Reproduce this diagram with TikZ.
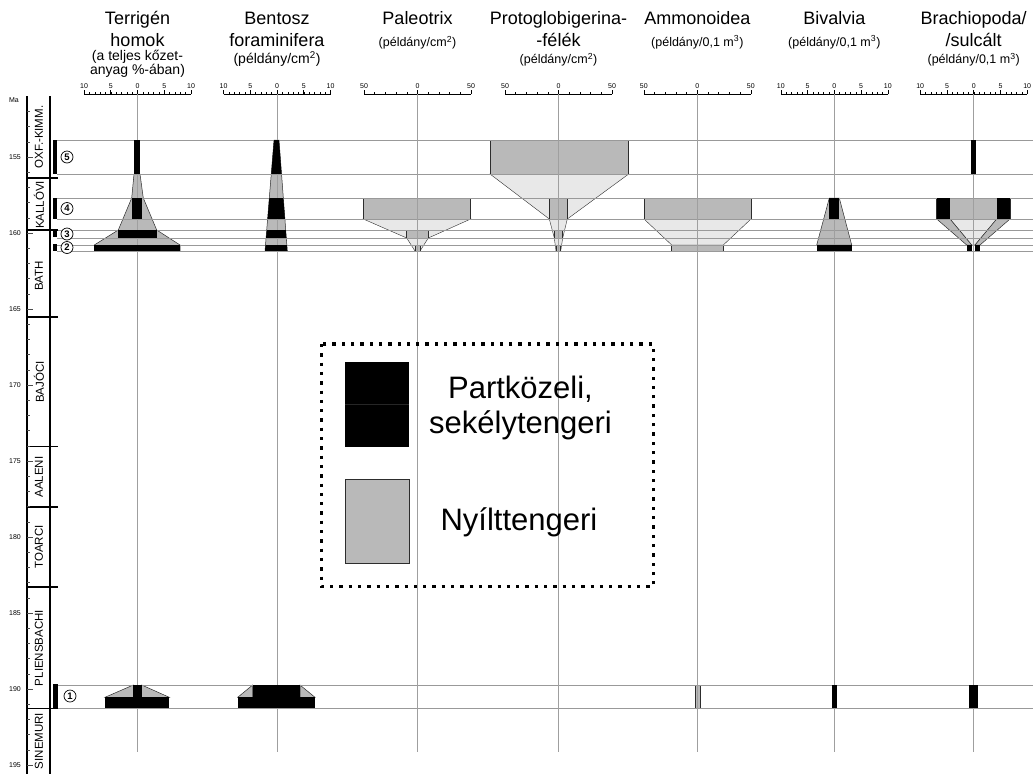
\documentclass[tikz,border=0pt]{standalone}
\usepackage{fontspec}
\setmainfont{Liberation Sans}
\begin{document}
\begin{tikzpicture}[x=1pt,y=-1pt,
  racs/.style={gray!80,line width=0.7pt},
  tengely/.style={gray!75,line width=0.7pt},
  nyilt/.style={fill=gray!55,draw=gray!35!black,line width=0.5pt},
  atmenet/.style={fill=gray!18,draw=gray!35!black,line width=0.4pt},
  cim/.style={font=\fontsize{18}{21}\selectfont,anchor=base,inner sep=0pt},
  alcim/.style={font=\fontsize{12.5}{14}\selectfont,anchor=base,inner sep=0pt},
  alcimnagy/.style={font=\fontsize{14}{16}\selectfont,anchor=base,inner sep=0pt},
  skala/.style={font=\fontsize{7}{8}\selectfont,anchor=base,inner sep=0pt},
  korszam/.style={font=\fontsize{7}{8}\selectfont,inner sep=0pt},
  emelet/.style={font=\fontsize{11.5}{12}\selectfont,rotate=90,inner sep=0pt},
  szint/.style={circle,draw,fill=white,line width=0.7pt,inner sep=0pt,minimum size=12pt,font=\fontsize{9.5}{9.5}\selectfont\bfseries},
  jelmagyar/.style={font=\fontsize{31}{35}\selectfont,align=center}]
\useasboundingbox (0,0) rectangle (1033,774);
% fejlec
\node[cim] (T1) at (137.5,24.5) {Terrigén};\node[cim] (T2) at (137.5,46) {homok};
\node[alcimnagy] (T3) at (137.5,60.5) {(a teljes kőzet-};\node[alcimnagy] (T4) at (137.5,74.5) {anyag \%-ában)};
\node[cim] (B1) at (277,24.5) {Bentosz};\node[cim] (B2) at (277,46) {foraminifera};
\node[alcimnagy] (B3) at (277,63.5) {(példány/cm\textsuperscript{2})};
\node[cim] (P1) at (417.5,24.5) {Paleotrix};\node[alcim] (P2) at (417.5,46.5) {(példány/cm\textsuperscript{2})};
\node[cim] (G1) at (558.5,24.5) {Protoglobigerina-};\node[cim] (G2) at (558.5,46) {-félék};
\node[alcim] (G3) at (558.5,63.5) {(példány/cm\textsuperscript{2})};
\node[cim] (A1) at (697.3,24.5) {Ammonoidea};\node[alcim] (A2) at (697.3,46) {(példány/0,1 m\textsuperscript{3})};
\node[cim] (V1) at (834.3,24.5) {Bivalvia};\node[alcim] (V2) at (834.3,46) {(példány/0,1 m\textsuperscript{3})};
\node[cim] (R1) at (973.7,24.5) {Brachiopoda/};\node[cim] (R2) at (973.7,46) {/sulcált};
\node[alcim] (R3) at (973.7,63.5) {(példány/0,1 m\textsuperscript{3})};
% skalak
\foreach \c/\s in {137.5/a,277/b,834.3/f,973.7/g}{
  \draw[line width=0.6pt] (\c-53.5,94) -- (\c+53.5,94);
  \foreach \i in {-10,...,10} \draw[line width=0.4pt] (\c+5.35*\i,94) -- ++(0,-2.2);
  \foreach \i/\t in {-10/10,-5/5,0/0,5/5,10/10}{
    \draw[line width=0.6pt] (\c+5.35*\i,94) -- ++(0,-4);
    \node[skala] (sk-\s\i) at (\c+5.35*\i,88.5) {\t};}
}
\foreach \c/\s in {417.5/c,558.5/d,697.3/e}{
  \draw[line width=0.6pt] (\c-53.5,94) -- (\c+53.5,94);
  \foreach \i in {-5,...,5} \draw[line width=0.5pt] (\c+10.7*\i,94) -- ++(0,-2.2);
  \foreach \i/\t in {-5/50,0/0,5/50}{
    \draw[line width=0.6pt] (\c+10.7*\i,94) -- ++(0,-4);
    \node[skala] (sk-\s\i) at (\c+10.7*\i,88.5) {\t};}
}
% nyilttengeri alakzatok
\filldraw[nyilt] (134,174) -- (131.7,198) -- (118.3,230) -- (94.3,245) -- (94.3,251) -- (180,251) -- (180,245) -- (156.7,230) -- (143.3,198) -- (140,174) -- cycle;
\filldraw[nyilt] (105,697.3) -- (133.3,685) -- (133.3,697.3) -- cycle;\filldraw[nyilt] (141.7,685) -- (169.3,697.3) -- (141.7,697.3) -- cycle;
\filldraw[nyilt] (274,140) -- (279,140) -- (287.3,251) -- (265,251) -- cycle;
\filldraw[nyilt] (237.7,697.3) -- (252.7,685) -- (252.7,697.3) -- cycle;\filldraw[nyilt] (300,685) -- (315,697.3) -- (300,697.3) -- cycle;
\filldraw[atmenet] (363.3,219) -- (406.7,238) -- (415,251) -- (420,251) -- (428.3,238) -- (470.7,219) -- cycle;
\filldraw[nyilt] (363.3,198) rectangle (470.7,219);\filldraw[nyilt] (406.7,230) rectangle (428.3,238);\filldraw[nyilt] (415,245) rectangle (420,251);
\filldraw[atmenet] (490,174) -- (549.3,219) -- (554.3,238) -- (556,251) -- (560.7,251) -- (562.7,238) -- (567.3,219) -- (628.7,174) -- cycle;
\filldraw[nyilt] (490,140) rectangle (628.7,174);\filldraw[nyilt] (549.3,198) rectangle (567.3,219);
\filldraw[nyilt] (554.3,230) rectangle (562.7,238);\filldraw[nyilt] (556,245) rectangle (560.7,251);
\filldraw[atmenet] (644,219) -- (671.7,245) -- (723.3,245) -- (751,219) -- cycle;
\filldraw[nyilt] (644,198) rectangle (751,219);\filldraw[nyilt] (671.7,245) rectangle (723.3,251);\filldraw[nyilt] (695,685) rectangle (700,708);
\filldraw[nyilt] (829.3,198) -- (816.7,245) -- (851.7,245) -- (839.3,198) -- cycle;
\filldraw[atmenet] (950,219) -- (971.7,245) -- (975,245) -- (996.7,219) -- cycle;
\filldraw[nyilt] (936.7,219) -- (950,219) -- (971.7,245) -- (966.7,245) -- cycle;
\filldraw[nyilt] (996.7,219) -- (1010,219) -- (980,245) -- (975,245) -- cycle;
\filldraw[nyilt] (936.7,198) rectangle (1010,219);
% vonalak
\foreach \y in {140,174,198,219,230,238,245,251,685,708} \draw[racs] (57,\y) -- (1033,\y);
\foreach \c in {137.5,277,417.5,558.5,697.3,834.3,973.7} \draw[tengely] (\c,94) -- (\c,752);
% partkozeli, sekelytengeri
\fill (134,140) rectangle (140,174);\fill (132.3,198) rectangle (141.7,219);
\fill (117.7,230) rectangle (156.7,238);\fill (94.3,245) rectangle (180,251);
\fill (105,697.3) rectangle (169.3,708.3);\fill (133.3,685) rectangle (141.7,697.3);
\begin{scope}
  \clip (274,140) -- (279,140) -- (287.3,251) -- (265,251) -- cycle;
  \fill (260,140) rectangle (295,174);\fill (260,198) rectangle (295,219);
  \fill (260,230) rectangle (295,238);\fill (260,245) rectangle (295,251);
\end{scope}
\fill (237.7,697.3) rectangle (315,708.3);\fill (252.7,685) rectangle (300,697.3);
\fill (829.3,198) rectangle (839.3,219);\fill (816.7,245) rectangle (851.7,251);\fill (832,685) rectangle (837,708);
\fill (971,140) rectangle (975.7,174);\fill (936.7,198) rectangle (950,219);\fill (996.7,198) rectangle (1010,219);
\fill (966.7,245) rectangle (971.7,251);\fill (975,245) rectangle (980,251);\fill (969,685) rectangle (978,708);
% idotengely
\draw[line width=2.2pt] (27,96) -- (27,774);\draw[line width=2.2pt] (50,96) -- (50,774);
\foreach \y in {178,230,317,446.5,507,587,708.5} \draw[line width=1.2pt] (27,\y) -- (58,\y);
\foreach \m in {152,...,195} \draw[gray!60!black,line width=0.5pt] (27,{157+(\m-155)*15.2}) -- ++(3,0);
\foreach \m in {155,160,...,195}{
  \draw[gray!60!black,line width=0.6pt] (27,{157+(\m-155)*15.2}) -- ++(6,0);
  \node[korszam] (ma\m) at (15,{157+(\m-155)*15.2}) {\m};}
\node[korszam] (Ma) at (14,100) {Ma};
\node[emelet] (E1) at (39,137) {OXF.-KIMM.};
\node[emelet] (E2) at (39,205) {KALLÓVI};
\node[emelet] (E3) at (39,276) {BATH};
\node[emelet] (E4) at (39,382) {BAJÓCI};
\node[emelet] (E5) at (39,477) {AALENI};
\node[emelet] (E6) at (39,547) {TOARCI};
\node[emelet] (E7) at (39,648) {PLIENSBACHI};
\node[emelet] (E8) at (39,741) {SINEMURI};
% szintek
\fill (52.5,140) rectangle (57,174);\fill (52.5,198) rectangle (57,219);
\fill (52.5,230) rectangle (57,237);\fill (52.5,244) rectangle (57,251);\fill (53,684) rectangle (58,708);
\node[szint] (L5) at (67,157) {5};\node[szint] (L4) at (67,208.5) {4};
\node[szint] (L3) at (67,234) {3};\node[szint] (L2) at (67,247.5) {2};\node[szint] (L1) at (70,696) {1};
% jelmagyarazat
\draw[line width=3.3pt,dash pattern=on 3.3pt off 6pt] (321.7,344) rectangle (653.3,586.7);
\fill (345,361.7) rectangle (409.3,446.7);\draw[gray!30!black,line width=0.4pt] (345,404) -- (409.3,404);
\filldraw[nyilt] (345,479.3) rectangle (409.3,563.3);
\node[jelmagyar] (J1) at (520.5,407.5) {Partközeli,\\sekélytengeri};
\node[jelmagyar] (J2) at (519,522) {Nyílttengeri};
\end{tikzpicture}
\end{document}
